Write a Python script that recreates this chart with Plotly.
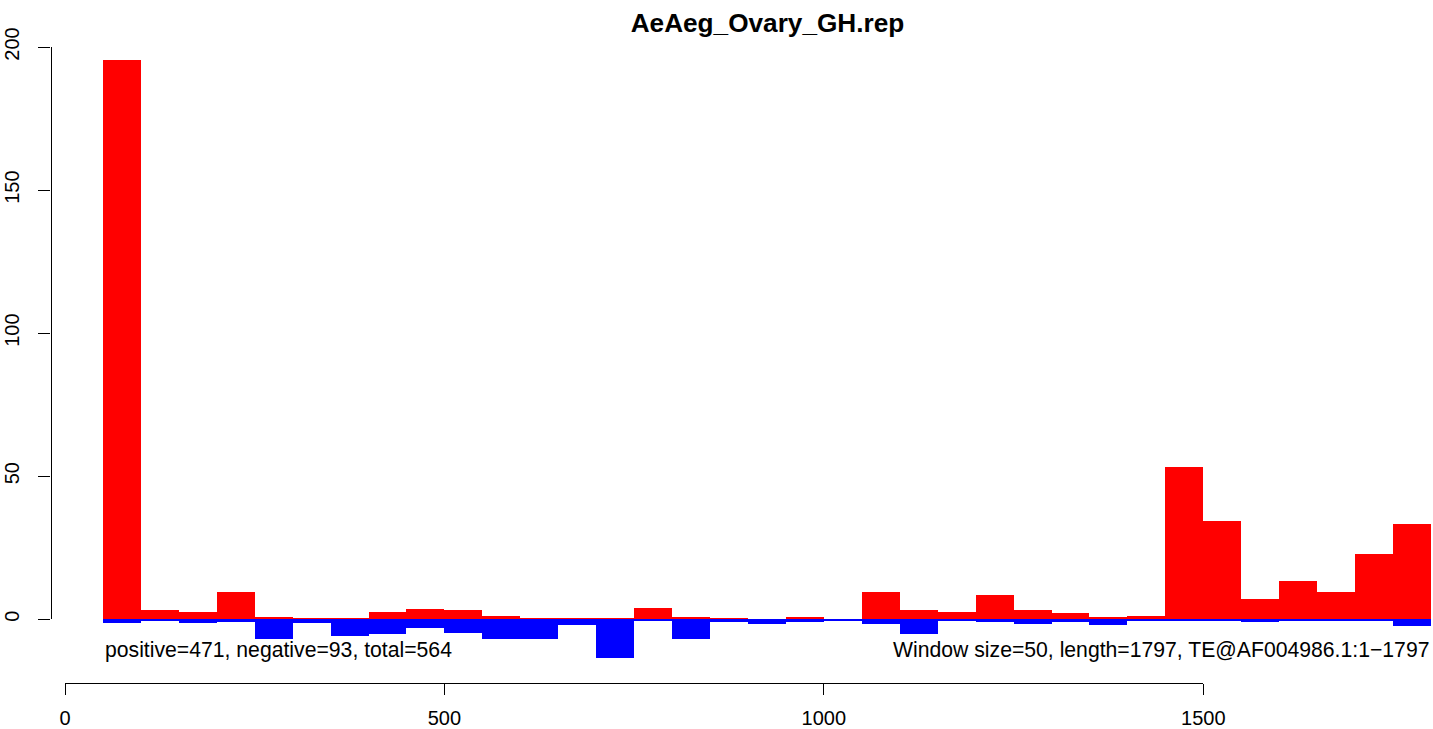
import plotly.graph_objects as go

# ---- data ----
window_start = [50, 100, 150, 200, 250, 300, 350, 400, 450, 500, 550, 600, 650, 700,
                750, 800, 850, 900, 950, 1000, 1050, 1100, 1150, 1200, 1250, 1300,
                1350, 1400, 1450, 1500, 1550, 1600, 1650, 1700, 1750]
window_size = 50
positive = [195.6, 3.3, 2.5, 9.5, 0.9, 0.6, 0.5, 2.5, 3.6, 3.3, 1.2, 0.6, 0.6, 0.5,
            4.0, 0.8, 0.5, 0.0, 0.8, 0.0, 9.5, 3.4, 2.7, 8.5, 3.4, 2.2, 0.8, 1.2,
            53.3, 34.4, 7.1, 13.4, 9.5, 22.8, 33.3]
negative = [1.2, 0.3, 1.2, 1.0, 7.0, 1.4, 5.7, 5.0, 3.0, 4.7, 7.0, 7.0, 1.9, 13.4,
            0.5, 6.8, 0.9, 1.5, 0.8, 0.4, 1.5, 5.0, 0.4, 1.0, 1.5, 1.0, 2.0, 0.4,
            0.5, 0.6, 1.0, 0.5, 0.5, 0.3, 2.2]
x_ticks = [0, 500, 1000, 1500]
y_ticks = [0, 50, 100, 150, 200]
title_text = "AeAeg_Ovary_GH.rep"
left_note = "positive=471, negative=93, total=564"
right_note = "Window size=50, length=1797, TE@AF004986.1:1\u22121797"

W, H = 1433, 729
FONT = "Liberation Sans, Arial, Helvetica, sans-serif"

centers = [s + window_size / 2 for s in window_start]

fig = go.Figure()
fig.add_trace(go.Bar(x=centers, y=positive, width=window_size,
                     marker=dict(color="#FF0000", line=dict(width=0)),
                     showlegend=False, hoverinfo="x+y"))
fig.add_trace(go.Bar(x=centers, y=[-v for v in negative], width=window_size,
                     marker=dict(color="#0000FF", line=dict(width=0)),
                     showlegend=False, hoverinfo="x+y"))
# empty trace so the R-style free axes (x2/y2) are drawn
fig.add_trace(go.Scatter(x=[None], y=[None], xaxis="x2", yaxis="y2", mode="markers",
                         showlegend=False, hoverinfo="skip"))

# pixel mapping helpers (layout only)
x0_px, x_scale = 65.0, (1203.3 - 65.0) / 1500.0
y0_px, y_scale = 619.3, (619.3 - 47.0) / 200.0

xr = [(0 - x0_px) / x_scale, (W - x0_px) / x_scale]
yr = [-(H - y0_px) / y_scale, y0_px / y_scale]

fig.add_annotation(x=window_start[0], y=-10.8, xref="x", yref="y", text=left_note, showarrow=False,
                   xanchor="left", yanchor="middle", font=dict(family=FONT, size=21.2, color="black"))
fig.add_annotation(x=window_start[-1] + window_size, y=-10.8, xref="x", yref="y", text=right_note,
                   showarrow=False, xanchor="right", yanchor="middle",
                   font=dict(family=FONT, size=21.2, color="black"))

fig.update_layout(
    width=W, height=H,
    margin=dict(l=0, r=0, t=0, b=0, pad=0, autoexpand=False),
    paper_bgcolor="white", plot_bgcolor="rgba(0,0,0,0)",
    barmode="overlay", bargap=0,
    font=dict(family=FONT, color="black"),
    title=dict(text="<b>" + title_text + "</b>", x=767.5 / W, xanchor="center", xref="paper",
               y=1 - 22.5 / H, yanchor="middle", yref="paper", automargin=False,
               font=dict(family=FONT, size=26.2, color="black")),
    xaxis=dict(range=xr, domain=[0, 1], visible=False, showgrid=False, zeroline=False,
               automargin=False),
    yaxis=dict(range=yr, domain=[0, 1], visible=False, showgrid=False, zeroline=False,
               automargin=False),
    xaxis2=dict(range=[x_ticks[0], x_ticks[-1]], domain=[x0_px / W, 1203.3 / W], anchor="free",
                position=1 - 683.0 / H, showline=True, linecolor="black", linewidth=1.2,
                ticks="outside", ticklen=11, tickwidth=1.2, tickcolor="black",
                tickvals=x_ticks, ticktext=[str(v) for v in x_ticks], ticklabelstandoff=6,
                tickfont=dict(family=FONT, size=20, color="black"), automargin=False,
                showgrid=False, zeroline=False, fixedrange=True),
    yaxis2=dict(range=[y_ticks[0], y_ticks[-1]], domain=[1 - y0_px / H, 1 - 47.0 / H], anchor="free",
                position=50.5 / W, showline=True, linecolor="black", linewidth=1.2,
                ticks="outside", ticklen=12, tickwidth=1.2, tickcolor="black",
                tickvals=y_ticks, ticktext=[str(v) for v in y_ticks], tickangle=-90,
                ticklabelstandoff=11,
                tickfont=dict(family=FONT, size=20, color="black"), automargin=False,
                showgrid=False, zeroline=False, fixedrange=True),
)

fig.write_html("out.html", config={"displayModeBar": False},
               post_script="document.body.style.margin='0px';document.body.style.overflow='hidden';")
